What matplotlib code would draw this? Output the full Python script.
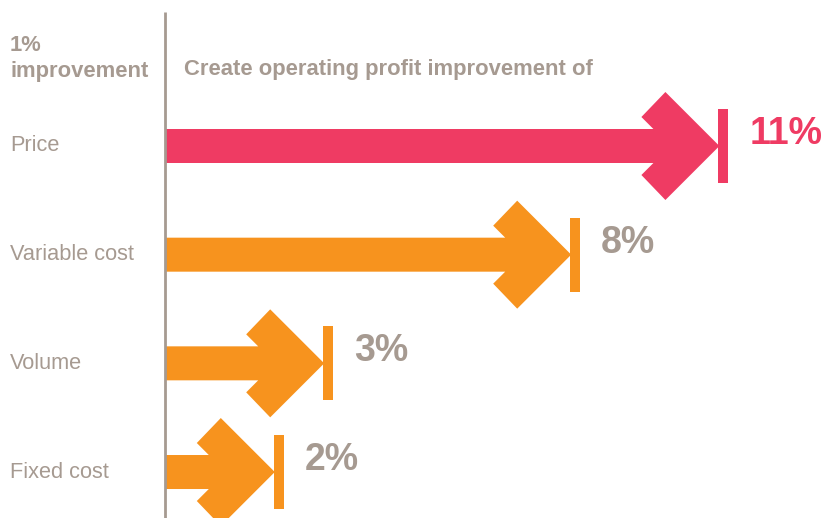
import matplotlib.pyplot as plt
from matplotlib.patches import Polygon, Rectangle

plt.rcParams['font.family'] = ['Liberation Sans', 'DejaVu Sans']

# data
levers = ['Price', 'Variable cost', 'Volume', 'Fixed cost']
profit_gain = [11, 8, 3, 2]
labels = ['11%', '8%', '3%', '2%']

PINK = '#EF3B63'
ORANGE = '#F7931E'
GREY = '#A69A91'
colors = [PINK, ORANGE, ORANGE, ORANGE]
label_colors = [PINK, GREY, GREY, GREY]

# pixel <-> data scales (figure is 829x518 px)
sx = 49.4     # px per percentage point
x0 = 176.0    # px where 0% sits
sy = 108.67   # px per category row
y0 = 146.0    # px of first row centre

fig = plt.figure(figsize=(8.29, 5.18), dpi=100)
ax = fig.add_axes([0, 0, 1, 1])
ax.set_xlim(-x0 / sx, (829 - x0) / sx)
ax.set_ylim((518 - y0) / sy, -y0 / sy)
ax.axis('off')

def px(dx):
    return dx / sx

def py(dy):
    return dy / sy

axis_x = -px(11)  # where the vertical rule is

for i, (v, c) in enumerate(zip(profit_gain, colors)):
    X = v
    pts = [
        (axis_x, i - py(17)),
        (X - px(66), i - py(17)),
        (X - px(78), i - py(29)),
        (X - px(54), i - py(54)),
        (X, i),
        (X - px(54), i + py(54)),
        (X - px(78), i + py(29)),
        (X - px(66), i + py(17)),
        (axis_x, i + py(17)),
    ]
    ax.add_patch(Polygon(pts, closed=True, facecolor=c, edgecolor='none'))
    ax.add_patch(Rectangle((X - px(1), i - py(37)), px(10), py(74),
                           facecolor=c, edgecolor='none'))
    ax.text(X + px(30), i - py(12), labels[i], color=label_colors[i],
            fontsize=27, fontweight='bold', ha='left', va='center')
    ax.text(-x0 / sx + px(10), i, levers[i], color=GREY, fontsize=15.7,
            ha='left', va='center')

# vertical rule
ax.plot([axis_x, axis_x], [-py(134), (518 - y0) / sy + 0.1], color=GREY,
        lw=2, solid_capstyle='butt')

# headers
ax.text(-x0 / sx + px(10), -py(100), '1%', color=GREY, fontsize=15.8,
        fontweight='bold', ha='left', va='center')
ax.text(-x0 / sx + px(10), -py(74), 'improvement', color=GREY, fontsize=15.8,
        fontweight='bold', ha='left', va='center')
ax.text(axis_x + px(19), -py(76), 'Create operating profit improvement of',
        color=GREY, fontsize=15.8, fontweight='bold', ha='left', va='center')

fig.savefig('out.png', dpi=100)
